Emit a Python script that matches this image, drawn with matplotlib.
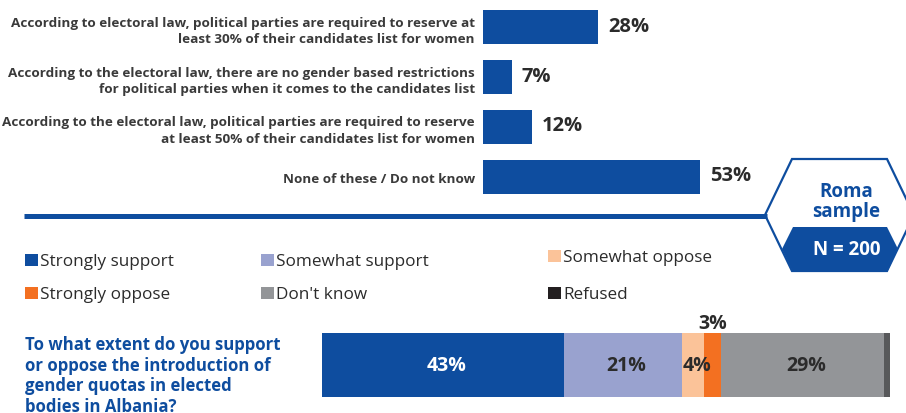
import matplotlib.pyplot as plt
from matplotlib.patches import Polygon, Rectangle

# data
knowledge_labels = [
    "According to electoral law, political parties are required to reserve at\nleast 30% of their candidates list for women",
    "According to the electoral law, there are no gender based restrictions\nfor political parties when it comes to the candidates list",
    "According to the electoral law, political parties are required to reserve\nat least 50% of their candidates list for women",
    "None of these / Do not know",
]
knowledge_values = [28, 7, 12, 53]

support_labels = ["Strongly support", "Somewhat support", "Somewhat oppose",
                  "Strongly oppose", "Don't know", "Refused"]
support_values = [43, 21, 4, 3, 29, 1]
support_shown = ["43%", "21%", "4%", "3%", "29%", ""]
support_colors = ["#0e4d9f", "#99a2cf", "#fbc399", "#f37021", "#939598", "#58595b"]
legend_colors = ["#0e4d9f", "#99a2cf", "#fbc399", "#f37021", "#939598", "#231f20"]

question = "To what extent do you support\nor oppose the introduction of\ngender quotas in elected\nbodies in Albania?"
sample_name = "Roma\nsample"
sample_n = "N = 200"

BLUE = "#0e4d9f"
DARK = "#2b2b2b"
FONT = ["Open Sans", "DejaVu Sans"]

W, H = 906, 414
fig = plt.figure(figsize=(W / 100, H / 100), dpi=100)


def px_rect(x0, y0, x1, y1):
    # pixel box (top-left origin) -> figure fraction
    return [x0 / W, 1 - y1 / H, (x1 - x0) / W, (y1 - y0) / H]


# background axes in pixel units for the decorations
bg = fig.add_axes([0, 0, 1, 1])
bg.set_xlim(0, W)
bg.set_ylim(H, 0)
bg.axis("off")

# separator line and the sample badge
bg.plot([24, 767], [217, 217], color=BLUE, lw=3.6, solid_capstyle="butt")
bg.add_patch(Polygon([(765, 216), (792, 160), (887, 160), (914, 216), (887, 272), (792, 272)],
                     closed=True, fill=False, ec=BLUE, lw=1.6))
bg.add_patch(Polygon([(793, 228), (887, 228), (898, 250), (887, 273), (793, 273), (782, 250)],
                     closed=True, fc=BLUE, ec="none"))
bg.text(846, 202, sample_name, ha="center", va="center", color=BLUE, fontsize=13.5,
        fontweight="bold", family=FONT, linespacing=0.95)
bg.text(847, 250, sample_n, ha="center", va="center", color="white", fontsize=13.5,
        fontweight="bold", family=FONT)

# legend drawn as rows of squares + text
legend_x = [25, 261, 548, 25, 261, 548]
legend_y = [261, 261, 257, 294, 294, 294]
for lab, col, x, y in zip(support_labels, legend_colors, legend_x, legend_y):
    bg.add_patch(Rectangle((x, y - 6), 13, 12, fc=col, ec="none"))
    bg.text(x + 15, y + 5, lab, ha="left", va="baseline", fontsize=12.3, color=DARK, family=FONT)

# question text
bg.text(25, 336, question, ha="left", va="top", color=BLUE, fontsize=12.1,
        fontweight="bold", family=FONT, linespacing=1.18)

# top bar chart
ax = fig.add_axes(px_rect(483, 3, 906, 203))
ypos = list(range(len(knowledge_values)))
ax.barh(ypos, knowledge_values, height=0.68, color=BLUE)
ax.set_xlim(0, 423 / 4.1)
ax.set_ylim(3.5, -0.5)
ax.set_yticks(ypos)
ax.set_yticklabels(knowledge_labels, fontsize=9.7, fontweight="bold", color="#3a3a3a",
                   family=FONT, linespacing=1.38, multialignment="right")
ax.tick_params(axis="y", length=0, pad=6)
ax.set_xticks([])
for s in ax.spines.values():
    s.set_visible(False)
ax.patch.set_alpha(0)
for i, v in enumerate(knowledge_values):
    ax.text(v + 10 / 4.1, i - 0.03, f"{v}%", ha="left", va="center", fontsize=14.5,
            fontweight="bold", color=DARK, family=FONT)

# stacked support bar
ax2 = fig.add_axes(px_rect(322, 334, 890, 398))
left = 0
for v, c, t in zip(support_values, support_colors, support_shown):
    ax2.barh([0], [v], left=left, height=1, color=c)
    if t == "3%":
        ax2.text(left + v / 2, 0.66, t, ha="center", va="center", fontsize=14,
                 fontweight="bold", color=DARK, family=FONT, clip_on=False)
    elif t:
        ax2.text(left + v / 2 + 0.6, 0, t, ha="center", va="center", fontsize=14,
                 fontweight="bold", color="white" if c == BLUE else DARK, family=FONT)
    left += v
ax2.set_xlim(0, sum(support_values))
ax2.set_ylim(-0.5, 0.5)
ax2.axis("off")

fig.savefig("out.png", dpi=100)
